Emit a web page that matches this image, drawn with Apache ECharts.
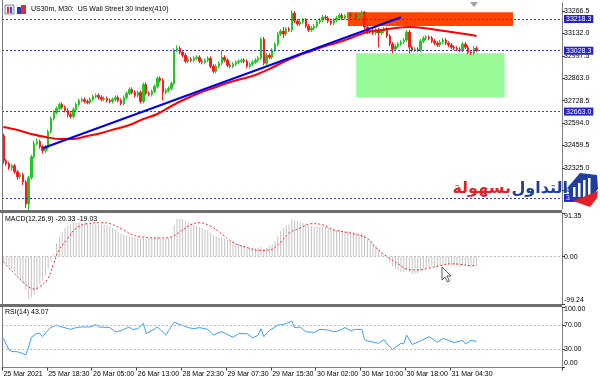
<!DOCTYPE html>
<html><head><meta charset="utf-8">
<script src="https://cdn.jsdelivr.net/npm/echarts@6/dist/echarts.min.js"></script>
<style>html,body{margin:0;padding:0;background:#fff}#c{width:600px;height:384px}</style>
</head><body><div id="c"></div>
<script>
// ---------- DATA ----------
const tickLabels = ['25 Mar 2021','25 Mar 18:30','26 Mar 05:00','26 Mar 13:00','28 Mar 23:30','29 Mar 07:30','29 Mar 15:30','30 Mar 02:00','30 Mar 10:00','30 Mar 18:00','31 Mar 04:30'];
const opens = [32519,32368,32350,32326,32338,32302,32272,32284,32241,32109,
32266,32392,32471,32483,32452,32428,32446,32543,32621,32658,
32682,32706,32688,32670,32645,32633,32676,32706,32730,32736,
32724,32718,32736,32754,32760,32748,32736,32742,32730,32724,
32736,32748,32730,32712,32748,32772,32796,32778,32760,32778,
32724,32826,32772,32766,32784,32814,32862,32850,32778,32790,
32802,32832,33031,33043,33019,33001,32965,32977,32971,32983,
32989,32965,32959,32971,32983,32935,32905,32935,32953,32989,
32971,32941,32935,32947,32959,32965,32971,32965,32935,32947,
32959,32971,32983,33098,32953,33001,32989,33031,33067,33128,
33146,33128,33158,33152,33254,33206,33188,33200,33212,33176,
33152,33164,33176,33200,33212,33230,33224,33206,33194,33212,
33224,33242,33224,33236,33248,33236,33242,33224,33236,33260,
33170,33140,33152,33134,33152,33134,33146,33158,33116,33068,
33037,33055,33068,33080,33092,33140,33049,33031,33037,33031,
33086,33104,33110,33104,33086,33074,33062,33080,33092,33074,
33062,33049,33043,33037,33031,33068,33049,33019,33013,33043];
const closes = [32368,32350,32326,32338,32302,32272,32284,32241,32109,32266,
32392,32471,32483,32452,32428,32446,32543,32621,32658,32682,
32706,32688,32670,32645,32633,32676,32706,32730,32736,32724,
32718,32736,32754,32760,32748,32736,32742,32730,32724,32736,
32748,32730,32712,32748,32772,32796,32778,32760,32778,32724,
32826,32772,32766,32784,32814,32862,32850,32778,32790,32802,
32832,33031,33043,33019,33001,32965,32977,32971,32983,32989,
32965,32959,32971,32983,32935,32905,32935,32953,32989,32971,
32941,32935,32947,32959,32965,32971,32965,32935,32947,32959,
32971,32983,33098,32953,33001,32989,33031,33067,33128,33146,
33128,33158,33152,33254,33206,33188,33200,33212,33176,33152,
33164,33176,33200,33212,33230,33224,33206,33194,33212,33224,
33242,33224,33236,33248,33236,33242,33224,33236,33260,33170,
33140,33152,33134,33152,33134,33146,33158,33116,33068,33037,
33055,33068,33080,33092,33140,33049,33031,33037,33031,33086,
33104,33110,33104,33086,33074,33062,33080,33092,33074,33062,
33049,33043,33037,33031,33068,33049,33019,33013,33043,33028.3];
const highs = [32531,32380,32362,32350,32350,32314,32296,32296,32253,32278,
32404,32489,32501,32495,32464,32464,32555,32633,32670,32694,
32718,32718,32700,32682,32657,32688,32718,32742,32748,32748,
32736,32748,32766,32772,32772,32760,32754,32754,32742,32748,
32760,32760,32742,32760,32784,32808,32808,32790,32790,32790,
32838,32838,32784,32796,32826,32874,32874,32862,32802,32814,
32844,33043,33061,33055,33031,33013,32989,32989,32995,33001,
33001,32977,32983,32995,32995,32947,32947,32965,33031,33001,
32983,32953,32959,32971,32977,32983,32983,32977,32959,32971,
32983,32995,33110,33110,33013,33013,33043,33079,33140,33158,
33170,33170,33170,33272,33266,33218,33212,33224,33224,33188,
33176,33188,33212,33224,33242,33242,33236,33218,33224,33236,
33254,33254,33248,33260,33260,33254,33254,33248,33270,33266,
33182,33164,33164,33164,33164,33158,33170,33170,33128,33080,
33067,33080,33092,33104,33152,33152,33061,33049,33049,33098,
33116,33122,33122,33116,33098,33086,33092,33104,33104,33086,
33074,33061,33055,33049,33080,33080,33061,33031,33055,33055];
const lows = [32350,32338,32314,32308,32290,32254,32260,32223,32085,32073,
32254,32380,32459,32440,32410,32416,32434,32531,32609,32646,
32670,32676,32658,32627,32621,32621,32664,32694,32718,32712,
32706,32706,32724,32742,32736,32724,32724,32718,32712,32712,
32724,32718,32700,32700,32736,32760,32766,32748,32748,32712,
32712,32760,32754,32754,32772,32802,32838,32730,32766,32778,
32790,32820,33019,33007,32989,32953,32953,32959,32959,32971,
32953,32947,32947,32959,32923,32893,32893,32923,32941,32959,
32929,32923,32923,32935,32947,32953,32953,32923,32923,32935,
32947,32959,32971,32941,32941,32977,32977,33019,33055,33116,
33104,33116,33140,33140,33194,33176,33176,33188,33164,33140,
33140,33152,33164,33188,33200,33212,33194,33182,33182,33200,
33212,33212,33212,33224,33224,33224,33212,33212,33224,33158,
33128,33128,33122,33122,33049,33122,33134,33104,33056,33013,
33025,33043,33056,33068,33080,33013,33019,33019,33019,33019,
33074,33092,33092,33074,33062,33050,33050,33068,33062,33050,
33037,33031,33025,33019,33019,33037,33007,33001,33001,33019];
// red moving average [bar index, price]
const maPoints = [[0,32570.5],[5,32552.5],[10,32528.5],[15,32510.5],[20,32498.5],[25,32498.5],[30,32516.5],[35,32534.5],[40,32558.5],[45,32582.5],[50,32618.5],[55,32648.5],[60,32696.5],[65,32738.5],[70,32774.5],[75,32804.5],[80,32834.5],[85,32858.5],[90,32882.5],[95,32918.5],[100,32960.5],[105,32996.5],[110,33026.5],[115,33056.5],[120,33080.5],[125,33110.5],[130,33140.5],[135,33152.5],[140,33164.5],[145,33170.5],[150,33164.5],[155,33152.5],[160,33140.5],[165,33128.5],[169,33116.5]];
// blue trend line [bar index, price]
const trendPoints = [[14,32442.7],[142,33228.7]];
const hLevels = [33218.3, 33028.3, 32663.0, 32145.0];
const sellZone = {from:123, to:182, top:33258.7, bottom:33176.5};
const buyZone = {from:126, to:179, top:33012.7, bottom:32748.7};
const priceTicks = [32190.5,32325.0,32459.5,32594.0,32728.5,32863.0,32997.5,33132.0,33266.5];
const macdHist = [-11,-16,-22,-27,-32,-40,-48,-56,-70,-88,
-85,-80,-70,-58,-50,-40,-25,-10,5,28,
42,52,60,65,68,70,71,72,71,70,
70,70,69,70,68,67,66,65,63,60,
56,52,49,46,44,42,41,40,40,38,
40,39,39,40,41,42,40,38,38,39,
41,66,78,79,77,74,72,70,67,64,
62,60,57,55,50,45,42,40,40,38,
35,32,30,28,26,24,22,20,18,17,
17,18,20,16,18,22,26,32,42,53,
60,66,68,78,76,74,72,71,68,65,
64,63,63,63,63,62,60,58,56,55,
55,54,53,53,53,52,50,49,50,45,
38,33,28,22,15,8,3,-3,-12,-20,
-26,-30,-32,-32,-28,-33,-37,-36,-35,-30,
-26,-23,-21,-20,-20,-21,-19,-17,-17,-18,
-19,-19,-20,-21,-18,-18,-20,-22,-20,-20.33];
const macdSignal = [[0,-11],[3,-30],[7,-53],[11,-68],[13,-63],[16,-45],[18,-14],[20,15],[23,38],[26,60],[30,69],[35,71],[38,69],[43,56],[46,46],[50,41],[56,39],[60,41],[63,52],[67,67],[70,71],[74,64],[77,52],[82,30],[87,19],[92,13],[95,14],[99,30],[102,49],[106,60],[110,69],[113,68],[118,56],[124,49],[130,38],[133,19],[137,0],[141,-15],[144,-26],[148,-28],[152,-24],[156,-19],[160,-15],[163,-16],[167,-19],[169,-19.03]];
const macdTicks = [-99.24, 0, 91.35];
const rsiPoints = [[0,48],[2,29],[3,26.5],[5,26],[7,23],[8,20.6],[9,34],[10,50],[12,56.5],[13,56.5],[14,51],[16,62],[17,66.5],[19,70],[21,67],[24,63],[26,66],[28,67],[31,67],[33,71],[34,67],[38,66],[40,59],[42,61],[45,67],[46,63],[48,64],[50,73],[51,56],[53,61],[55,67],[58,53.5],[59,61],[61,75],[62,73],[66,66],[68,64],[70,66],[73,63],[75,53.5],[76,56],[78,59],[82,50],[84,56],[87,56],[89,49],[91,53.5],[92,64],[93,51],[95,61],[98,70],[100,71],[103,76.5],[104,66],[106,67],[108,59],[111,58],[113,63],[116,62],[118,59],[120,61],[122,66],[124,61],[126,63],[128,63],[129,46],[130,44],[132,42],[134,40],[136,46],[137,39],[139,30],[142,40],[143,39],[144,53.5],[146,38],[149,44],[152,51],[155,42],[157,48],[159,45],[161,41],[164,45],[165,39],[167,45],[169,43.07]];
const rsiTicks = [0, 30, 70, 100];
const rsiLevels = [30, 70];

// ---------- CHART ----------
const NSLOTS = 200;
const cats = Array.from({length: NSLOTS}, (_, i) => String(i));
const candles = opens.map((o, i) => [o, closes[i], lows[i], highs[i]]);
const FONT = 'Liberation Sans';
const chart = echarts.init(document.getElementById('c'), null, {renderer: 'canvas'});
const showTick = (idx) => idx % 16 === 0 && idx / 16 < tickLabels.length;

const hidX = (g) => ({type:'category', gridIndex:g, data:cats, boundaryGap:true, show:false});
const yBase = (g, min, max, ticks, digits, padTop, padBot) => ({
  type:'value', gridIndex:g, position:'right', min:min, max:max, scale:true,
  splitLine:{show:false},
  axisLine:{show:true, lineStyle:{color:'#808080', width:1}},
  axisTick:{show:true, length:3, customValues:ticks, lineStyle:{color:'#404040'}},
  axisLabel:{show:true, customValues:ticks, margin:2, color:'#000', fontFamily:FONT, fontSize:7,
    formatter:(v) => {
      const s = Number(v).toFixed(digits);
      if (padTop && Math.abs(v - max) < 1e-6) return '{t|' + s + '}';
      if (padBot && Math.abs(v - min) < 1e-6) return '{b|' + s + '}';
      return s;
    },
    rich:{
      t:{padding:[padTop || 0, 0, 0, 0], fontFamily:FONT, fontSize:7, color:'#000'},
      b:{padding:[0, 0, padBot || 0, 0], fontFamily:FONT, fontSize:7, color:'#000'}
    }}
});

const option = {
  animation:false,
  backgroundColor:'#ffffff',
  grid:[
    {left:2, width:560, top:3, height:206},
    {left:2, width:560, top:213, height:91},
    {left:2, width:560, top:307, height:60.5}
  ],
  xAxis:[
    hidX(0), hidX(1),
    {type:'category', gridIndex:2, data:cats, boundaryGap:true,
      axisLine:{show:true, lineStyle:{color:'#808080'}},
      axisTick:{show:true, interval:(i) => showTick(i), length:3, alignWithLabel:false, lineStyle:{color:'#404040'}},
      axisLabel:{show:true, interval:(i) => showTick(i), align:'left', margin:3, color:'#000', fontFamily:FONT, fontSize:7,
        formatter:(v, i) => tickLabels[i / 16] || ''},
      splitLine:{show:false}}
  ],
  yAxis:[
    yBase(0, 32078.5, 33314.5, priceTicks, 1, 0, 0),
    yBase(1, -99.24, 91.35, macdTicks, 2, 6, 8),
    yBase(2, 0, 100, rsiTicks, 2, 5, 8)
  ],
  series:[
    { // zones (drawn behind)
      type:'line', xAxisIndex:0, yAxisIndex:0, data:[[0,null]], z:1, silent:true, showSymbol:false,
      markArea:{silent:true, data:[
        [{xAxis:sellZone.from, yAxis:sellZone.top, itemStyle:{color:'#ff4500', opacity:1}}, {xAxis:sellZone.to, yAxis:sellZone.bottom}],
        [{xAxis:buyZone.from, yAxis:buyZone.top, itemStyle:{color:'#98fb98', opacity:1}}, {xAxis:buyZone.to, yAxis:buyZone.bottom}]
      ]}
    },
    {
      type:'candlestick', xAxisIndex:0, yAxisIndex:0, data:candles, z:3, barWidth:2,
      itemStyle:{color:'#20c820', color0:'#ff1a1a', borderColor:'#20c820', borderColor0:'#ff1a1a', borderWidth:1}
    },
    {
      type:'line', xAxisIndex:0, yAxisIndex:0, data:maPoints, z:4, smooth:0.35, showSymbol:false, silent:true,
      lineStyle:{color:'#ff0000', width:2}
    },
    {
      type:'line', xAxisIndex:0, yAxisIndex:0, data:trendPoints, z:5, showSymbol:false, silent:true,
      lineStyle:{color:'#0000ee', width:2},
      markLine:{silent:true, symbol:['none','none'], animation:false,
        lineStyle:{color:'#3434d8', type:[2,2], width:1},
        label:{position:'end', distance:2, formatter:(p) => Number(p.value).toFixed(1),
          backgroundColor:'#2222c8', color:'#ffffff', fontFamily:FONT, fontSize:7, padding:[1,2,0,2]},
        data:hLevels.map(v => ({yAxis:v}))}
    },
    {
      type:'bar', xAxisIndex:1, yAxisIndex:1, data:macdHist, barWidth:1, z:2, silent:true,
      itemStyle:{color:'#c4c4c4'},
      markLine:{silent:true, symbol:['none','none'], label:{show:false},
        lineStyle:{color:'#c0c0c0', type:[2,2], width:1}, data:[{yAxis:0}]}
    },
    {
      type:'line', xAxisIndex:1, yAxisIndex:1, data:macdSignal, smooth:0.4, showSymbol:false, z:3, silent:true,
      lineStyle:{color:'#ff2a2a', width:1, type:[2,2]}
    },
    {
      type:'line', xAxisIndex:2, yAxisIndex:2, data:rsiPoints, showSymbol:false, z:3, silent:true,
      lineStyle:{color:'#3d9dff', width:1},
      markLine:{silent:true, symbol:['none','none'], label:{show:false},
        lineStyle:{color:'#c0c0c0', type:[2,2], width:1}, data:rsiLevels.map(v => ({yAxis:v}))}
    }
  ],
  graphic:[
    {type:'line', shape:{x1:2.5, y1:0, x2:2.5, y2:368}, style:{stroke:'#7a7a7a', lineWidth:1}, z:50},
    {type:'rect', shape:{x:0, y:210, width:562, height:3}, style:{fill:'#6e6e6e'}, z:50},
    {type:'rect', shape:{x:0, y:304, width:562, height:3}, style:{fill:'#6e6e6e'}, z:50},
    // title icons
    {type:'rect', shape:{x:5, y:5, width:9, height:9}, style:{fill:'#e4e4f0', stroke:'#8a8aa8', lineWidth:1}, z:50},
    {type:'rect', shape:{x:7, y:7, width:2, height:6}, style:{fill:'#e03030'}, z:51},
    {type:'rect', shape:{x:10, y:7, width:2, height:6}, style:{fill:'#3050d0'}, z:51},
    {type:'rect', shape:{x:17, y:7, width:4, height:7}, style:{fill:'#2040c8'}, z:50},
    {type:'rect', shape:{x:21, y:5, width:5, height:9}, style:{fill:'#d83030'}, z:50},
    {type:'text', left:31, top:6, style:{text:'US30m, M30:  US Wall Street 30 Index(410)', fill:'#000', font:'7px "Liberation Sans"'}, z:50},
    {type:'text', left:5, top:216, style:{text:'MACD(12,26,9) -20.33 -19.03', fill:'#000', font:'7px "Liberation Sans"'}, z:50},
    {type:'text', left:5, top:309, style:{text:'RSI(14) 43.07', fill:'#000', font:'7px "Liberation Sans"'}, z:50},
    // chart shift marker
    {type:'polygon', shape:{points:[[470,2],[478,2],[474,7]]}, style:{fill:'#a0a0a0'}, z:50},
    // mouse cursor
    {type:'polygon', shape:{points:[[442,267],[442,280],[445,277],[447.5,282],[449.5,281],[447,276],[451,276]]}, style:{fill:'#ffffff', stroke:'#303030', lineWidth:0.8}, z:60},
    // logo
    {type:'text', z:100, style:{text:'التداول', x:568, y:197, textAlign:'right', textVerticalAlign:'bottom', fill:'#1f3f9f', font:'bold 16px "DejaVu Sans"'}},
    {type:'text', z:100, style:{text:'بسهولة', x:511, y:197, textAlign:'right', textVerticalAlign:'bottom', fill:'#e32027', font:'bold 16px "DejaVu Sans"'}},
    {type:'polygon', z:100, shape:{points:[[568,187],[580,173],[597,175],[598,189],[589,200],[570,200]]}, style:{fill:'#1f3f9f'}},
    {type:'rect', z:101, shape:{x:573, y:187, width:2.5, height:10}, style:{fill:'#ffffff'}},
    {type:'rect', z:101, shape:{x:578, y:183, width:2.5, height:14}, style:{fill:'#ffffff'}},
    {type:'rect', z:101, shape:{x:583, y:180, width:2.5, height:17}, style:{fill:'#ffffff'}},
    {type:'rect', z:101, shape:{x:588, y:178, width:2.5, height:17}, style:{fill:'#ffffff'}},
    {type:'polygon', z:101, shape:{points:[[573,201],[598,191],[597,198],[590,207]]}, style:{fill:'#e32027'}}
  ]
};
chart.setOption(option);
</script>
</body></html>
